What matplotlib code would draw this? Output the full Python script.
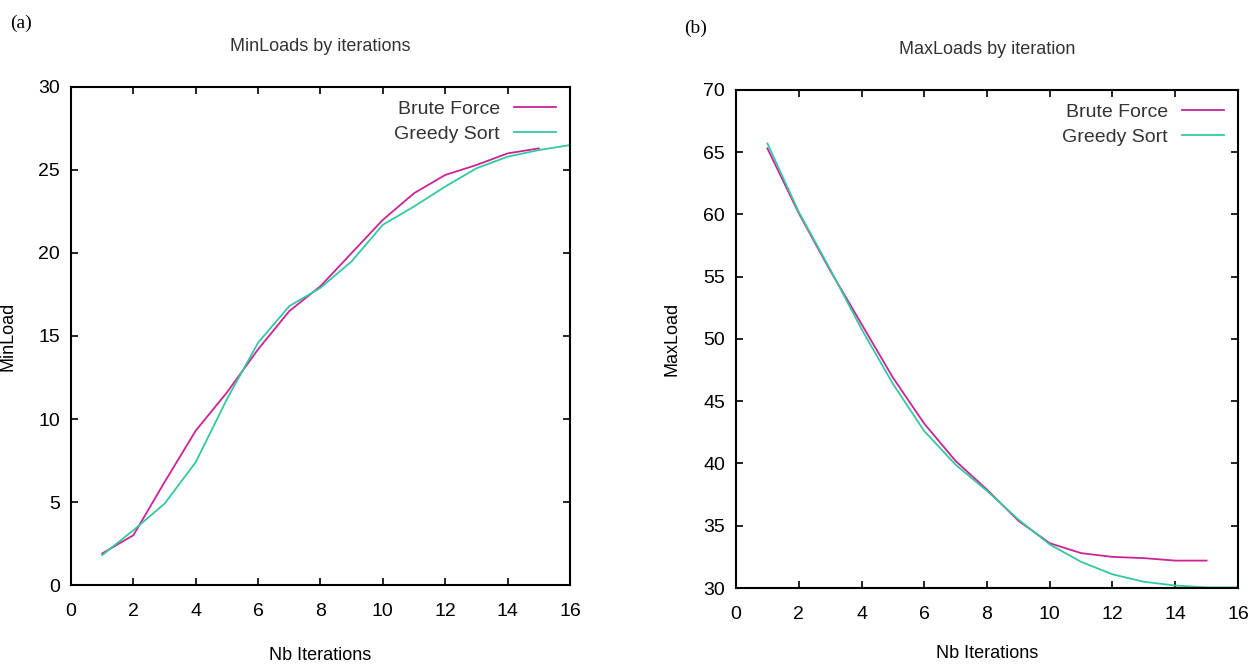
import matplotlib
matplotlib.use('Agg')
import matplotlib.pyplot as plt

plt.rcParams['font.family'] = ['Liberation Sans Narrow', 'Liberation Sans', 'DejaVu Sans']

# (a) MinLoads
min_x_brute = [1, 2, 3, 4, 5, 6, 7, 8, 9, 10, 11, 12, 13, 14, 15]
min_brute = [1.9, 3.0, 6.2, 9.3, 11.6, 14.2, 16.5, 18.0, 20.0, 22.0, 23.6, 24.7, 25.3, 26.0, 26.3]
min_x_greedy = [1, 2, 3, 4, 5, 6, 7, 8, 9, 10, 11, 12, 13, 14, 15, 16]
min_greedy = [1.8, 3.3, 4.9, 7.4, 11.2, 14.6, 16.8, 17.9, 19.5, 21.7, 22.8, 24.0, 25.1, 25.8, 26.2, 26.5]

# (b) MaxLoads
max_x_brute = [1, 2, 3, 4, 5, 6, 7, 8, 9, 10, 11, 12, 13, 14, 15]
max_brute = [65.3, 60.1, 55.5, 51.2, 46.9, 43.2, 40.2, 37.9, 35.4, 33.6, 32.8, 32.5, 32.4, 32.2, 32.2]
max_x_greedy = [1, 2, 3, 4, 5, 6, 7, 8, 9, 10, 11, 12, 13, 14, 15, 16]
max_greedy = [65.7, 60.2, 55.6, 50.8, 46.4, 42.6, 39.9, 37.8, 35.5, 33.5, 32.1, 31.1, 30.5, 30.2, 30.05, 30.05]

xticks = [0, 2, 4, 6, 8, 10, 12, 14, 16]
magenta = '#cc2299'
green = '#33c9a0'

fig = plt.figure(figsize=(12.59, 6.66), dpi=100)
ax1 = fig.add_axes([0.0564, 0.1216, 0.3963, 0.7478])
ax2 = fig.add_axes([0.5846, 0.1171, 0.3987, 0.7479])


def style(ax, title, ylabel, ylim, yticks, xlab_y):
    ax.set_xlim(0, 16)
    ax.set_ylim(*ylim)
    ax.set_xticks(xticks)
    ax.set_yticks(yticks)
    ax.tick_params(direction='in', top=True, right=True, length=5, width=1.2,
                   labelsize=14)
    ax.tick_params(axis='x', pad=13)
    ax.tick_params(axis='y', pad=8)
    for s in ax.spines.values():
        s.set_linewidth(1.5)
    ax.set_title(title, fontsize=13, pad=26, color='#333333')
    ax.set_xlabel('Nb Iterations', fontsize=13)
    ax.xaxis.set_label_coords(0.5, xlab_y)
    ax.set_ylabel(ylabel, fontsize=13, family=['Liberation Sans', 'DejaVu Sans'])
    ax.yaxis.set_label_coords(-0.11, 0.5)
    leg = ax.legend(loc='upper right', frameon=False, markerfirst=False, fontsize=14,
                    handlelength=2.2, handletextpad=0.7, labelspacing=0.35,
                    borderaxespad=0.3)
    for t in leg.get_texts():
        t.set_color('#333333')


ax1.plot(min_x_brute, min_brute, color=magenta, lw=1.3, label='Brute Force')
ax1.plot(min_x_greedy, min_greedy, color=green, lw=1.3, label='Greedy Sort')
style(ax1, 'MinLoads by iterations', 'MinLoad', (0, 30), [0, 5, 10, 15, 20, 25, 30], -0.125)

ax2.plot(max_x_brute, max_brute, color=magenta, lw=1.3, label='Brute Force')
ax2.plot(max_x_greedy, max_greedy, color=green, lw=1.3, label='Greedy Sort')
style(ax2, 'MaxLoads by iteration', 'MaxLoad', (30, 70), [30, 35, 40, 45, 50, 55, 60, 65, 70], -0.115)

fig.text(0.008, 0.965, '(a)', fontsize=14, family=['Liberation Serif', 'DejaVu Serif'], va='center')
fig.text(0.543, 0.958, '(b)', fontsize=14, family=['Liberation Serif', 'DejaVu Serif'], va='center')

fig.savefig('out.png', dpi=100)
